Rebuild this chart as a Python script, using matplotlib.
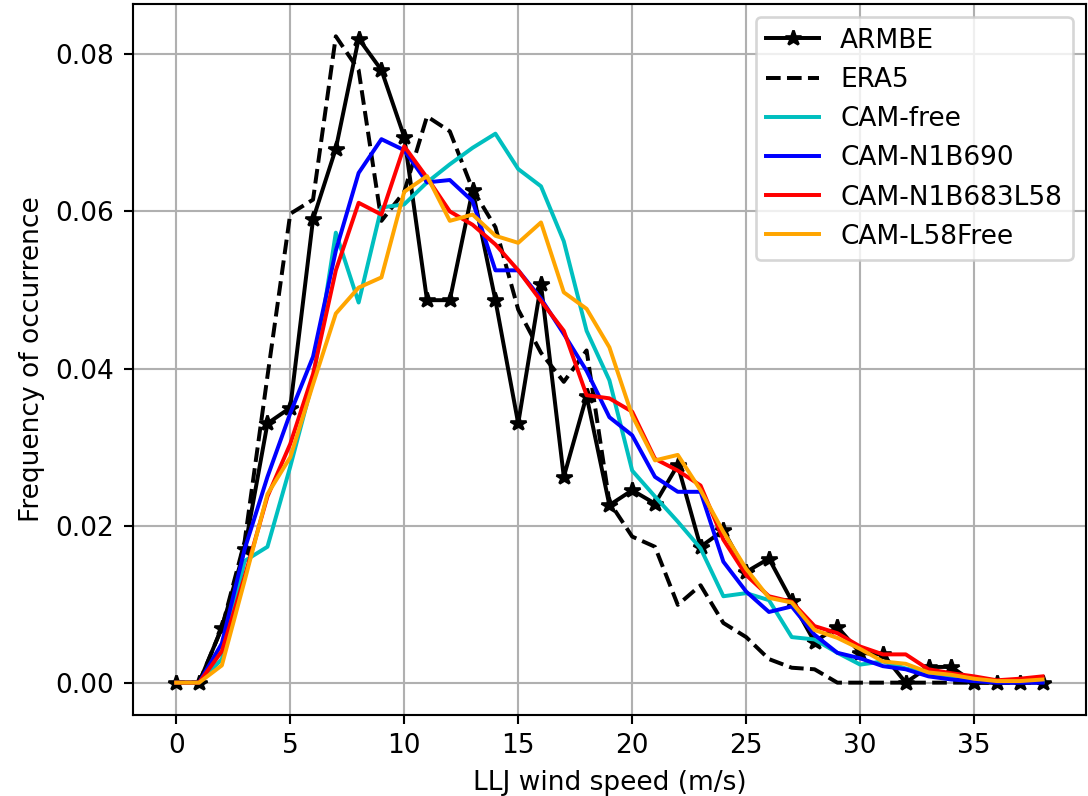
import numpy as np
import matplotlib
matplotlib.use("Agg")
import matplotlib.pyplot as plt

speed = np.arange(0, 39)

armbe = [0.0, 0.0, 0.007, 0.017, 0.033, 0.035, 0.059, 0.068, 0.082, 0.078,
         0.0695, 0.0487, 0.0487, 0.0627, 0.0487, 0.033, 0.0507, 0.0262, 0.0365, 0.0226,
         0.0245, 0.0228, 0.0277, 0.0173, 0.0194, 0.0141, 0.0158, 0.0104, 0.0052, 0.0071,
         0.0038, 0.0036, 0.0, 0.002, 0.002, 0.0, 0.0, 0.0, 0.0]
era5 = [0.0, 0.0, 0.007, 0.018, 0.039, 0.0597, 0.0615, 0.0823, 0.078, 0.0588,
        0.0625, 0.0721, 0.0702, 0.0628, 0.058, 0.0475, 0.042, 0.0383, 0.0423, 0.023,
        0.0186, 0.0173, 0.0099, 0.0124, 0.0076, 0.0058, 0.003, 0.0019, 0.0017, 0.0,
        0.0, 0.0, 0.0, 0.0, 0.0, 0.0, 0.0, 0.0, 0.0]
cam_free = [0.0, 0.0, 0.003, 0.0155, 0.0173, 0.0275, 0.0385, 0.0573, 0.0484, 0.0605,
            0.0609, 0.0637, 0.066, 0.0681, 0.0699, 0.0654, 0.0632, 0.0562, 0.0448, 0.0385,
            0.027, 0.0237, 0.0205, 0.0171, 0.011, 0.0114, 0.0105, 0.0058, 0.0055, 0.0038,
            0.0023, 0.0027, 0.0018, 0.0012, 0.0008, 0.0004, 0.0002, 0.0001, 0.0001]
cam_n1b690 = [0.0, 0.0, 0.005, 0.017, 0.0262, 0.0343, 0.0415, 0.055, 0.0649, 0.0692,
              0.0678, 0.0637, 0.064, 0.0613, 0.0525, 0.0525, 0.0489, 0.0444, 0.0397, 0.0338,
              0.0315, 0.0262, 0.0243, 0.0243, 0.0154, 0.0116, 0.009, 0.0097, 0.0061, 0.0038,
              0.0031, 0.0021, 0.0017, 0.0008, 0.0004, 0.0002, 0.0, 0.0, 0.0]
cam_n1b683l58 = [0.0, 0.0, 0.004, 0.0135, 0.0237, 0.0304, 0.0393, 0.0525, 0.0611, 0.0596,
                 0.0683, 0.0643, 0.06, 0.0583, 0.0558, 0.0525, 0.0486, 0.0448, 0.0366, 0.0362,
                 0.0345, 0.0285, 0.027, 0.0251, 0.0182, 0.0137, 0.011, 0.0103, 0.0072, 0.0063,
                 0.0046, 0.0036, 0.0036, 0.0017, 0.0012, 0.0008, 0.0003, 0.0005, 0.0008]
cam_l58free = [0.0, 0.0, 0.0022, 0.013, 0.024, 0.0287, 0.038, 0.047, 0.0503, 0.0516,
               0.0625, 0.0645, 0.0588, 0.0596, 0.0569, 0.056, 0.0586, 0.0497, 0.0476, 0.0427,
               0.034, 0.0283, 0.029, 0.0245, 0.0192, 0.0145, 0.0108, 0.0102, 0.0067, 0.0057,
               0.0043, 0.0027, 0.0024, 0.0013, 0.001, 0.0005, 0.0002, 0.0002, 0.0004]

fig = plt.figure(figsize=(1088 / 190, 796 / 190), dpi=190)
ax = fig.add_axes([0.1222, 0.1018, 0.8758, 0.8932])

ax.plot(speed, armbe, "k-*", label="ARMBE")
ax.plot(speed, era5, "k--", label="ERA5")
ax.plot(speed, cam_free, color="c", label="CAM-free")
ax.plot(speed, cam_n1b690, color="b", label="CAM-N1B690")
ax.plot(speed, cam_n1b683l58, color="r", label="CAM-N1B683L58")
ax.plot(speed, cam_l58free, color="orange", label="CAM-L58Free")

ax.set_yticks([0.0, 0.02, 0.04, 0.06, 0.08])
ax.set_xlabel("LLJ wind speed (m/s)")
ax.set_ylabel("Frequency of occurrence")
ax.grid(True)
ax.legend(loc="upper right")

fig.savefig("out.png", dpi=190)
